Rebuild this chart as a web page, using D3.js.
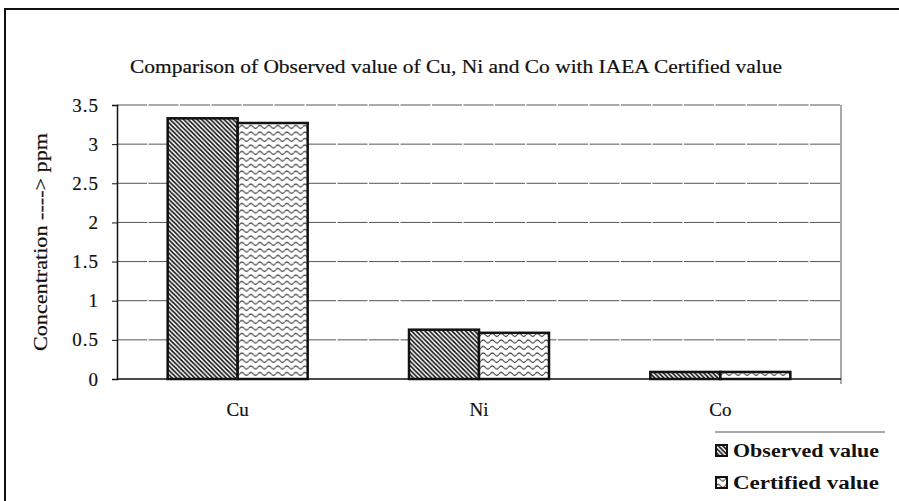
<!DOCTYPE html>
<html>
<head>
<meta charset="utf-8">
<script src="https://cdn.jsdelivr.net/npm/d3@7"></script>
<style>
  body { margin: 0; background: #fff; }
  svg text { font-family: "Liberation Serif", "Times New Roman", serif; fill: #111; }
</style>
</head>
<body>
<svg id="chart" width="899" height="501"></svg>
<script>
// values
const categories = ["Cu", "Ni", "Co"];
const observed = [3.33, 0.63, 0.09];
const certified = [3.27, 0.59, 0.09];
const seriesNames = ["Observed value", "Certified value"];
const yTickValues = [0, 0.5, 1, 1.5, 2, 2.5, 3, 3.5];

const svg = d3.select("#chart");
const plot = { left: 117, right: 841, top: 105, bottom: 379 };

// patterns: diagonal hatch for observed, wavy lines for certified
const defs = svg.append("defs");
const hatch = defs.append("pattern")
    .attr("id", "hatch")
    .attr("patternUnits", "userSpaceOnUse")
    .attr("width", 4.5).attr("height", 4.5);
hatch.append("rect").attr("width", 4.5).attr("height", 4.5).attr("fill", "#fff");
hatch.append("path")
    .attr("d", "M-1,-1 L5.5,5.5 M-1,3.5 L1,5.5 M3.5,-1 L5.5,1")
    .attr("stroke", "#111").attr("stroke-width", 1.6);

const wave = defs.append("pattern")
    .attr("id", "wave")
    .attr("patternUnits", "userSpaceOnUse")
    .attr("width", 9).attr("height", 6.5);
wave.append("rect").attr("width", 9).attr("height", 6.5).attr("fill", "#fff");
wave.append("path")
    .attr("d", "M0,3.5 Q2.25,0.5 4.5,3.5 T9,3.5")
    .attr("fill", "none").attr("stroke", "#222").attr("stroke-width", 1);

const fills = ["url(#hatch)", "url(#wave)"];

// scanned text looks a little heavy, thicken regular glyphs slightly
function heavy(sel) {
    sel.attr("stroke", "#111").attr("stroke-width", 0.2);
}

// outer frame (only top and left edges visible in the scan)
svg.append("path")
    .attr("d", "M5,501 L5,9 L899,9")
    .attr("fill", "none").attr("stroke", "#111").attr("stroke-width", 2);

// title
svg.append("text")
    .attr("x", 456).attr("y", 73)
    .attr("text-anchor", "middle")
    .attr("font-size", 19)
    .attr("textLength", 652)
    .attr("lengthAdjust", "spacingAndGlyphs")
    .text("Comparison of Observed value of Cu, Ni and Co with IAEA Certified value")
    .call(heavy);

// scales
const x = d3.scaleBand().domain(categories).range([plot.left, plot.right]);
const y = d3.scaleLinear().domain([0, 3.5]).range([plot.bottom, plot.top]);
const barW = 70;

// grid lines
svg.append("g")
    .selectAll("line")
    .data(yTickValues.filter(d => d > 0))
    .join("line")
    .attr("x1", plot.left).attr("x2", plot.right)
    .attr("y1", d => y(d)).attr("y2", d => y(d))
    .attr("stroke", "#555").attr("stroke-width", 1)
    .attr("stroke-dasharray", "30,1.5");

// right border of plot area
svg.append("line")
    .attr("x1", plot.right).attr("x2", plot.right)
    .attr("y1", plot.top).attr("y2", plot.bottom + 5)
    .attr("stroke", "#555").attr("stroke-width", 1);

// y axis
const yAxis = svg.append("g")
    .attr("transform", `translate(${plot.left},0)`)
    .call(d3.axisLeft(y).tickValues(yTickValues).tickSize(5).tickPadding(13)
        .tickFormat(d3.format("")));
yAxis.select(".domain").attr("stroke", "#111").attr("stroke-width", 1.5);
yAxis.selectAll(".tick line").attr("stroke", "#111");
yAxis.selectAll(".tick text")
    .attr("font-size", 19)
    .attr("letter-spacing", 1)
    .attr("fill", "#111")
    .call(heavy);

// x axis baseline
svg.append("line")
    .attr("x1", plot.left).attr("x2", plot.right)
    .attr("y1", plot.bottom).attr("y2", plot.bottom)
    .attr("stroke", "#111").attr("stroke-width", 1.5);

// category labels
svg.append("g")
    .selectAll("text")
    .data(categories)
    .join("text")
    .attr("x", d => x(d) + x.bandwidth() / 2)
    .attr("y", 416)
    .attr("text-anchor", "middle")
    .attr("font-size", 19)
    .text(d => d)
    .call(heavy);

// bars
const rows = categories.map((c, i) => ({ cat: c, vals: [observed[i], certified[i]] }));
const groups = svg.append("g")
    .selectAll("g")
    .data(rows)
    .join("g")
    .attr("transform", d => `translate(${x(d.cat) + x.bandwidth() / 2 - barW},0)`);

groups.selectAll("rect")
    .data(d => d.vals)
    .join("rect")
    .attr("x", (d, i) => i * barW)
    .attr("y", d => y(d))
    .attr("width", barW)
    .attr("height", d => y(0) - y(d))
    .attr("fill", (d, i) => fills[i])
    .attr("stroke", "#111")
    .attr("stroke-width", 2.5);

// y axis title
svg.append("text")
    .attr("transform", `translate(47,${(plot.top + plot.bottom) / 2}) rotate(-90)`)
    .attr("text-anchor", "middle")
    .attr("font-size", 19)
    .attr("textLength", 218)
    .attr("lengthAdjust", "spacingAndGlyphs")
    .text("Concentration ----> ppm")
    .call(heavy);

// legend
svg.append("line")
    .attr("x1", 715).attr("x2", 885).attr("y1", 432).attr("y2", 432)
    .attr("stroke", "#555").attr("stroke-width", 1);

const legend = svg.append("g")
    .selectAll("g")
    .data(seriesNames)
    .join("g")
    .attr("transform", (d, i) => `translate(716,${457 + i * 32})`);

legend.append("rect")
    .attr("x", 0).attr("y", -12)
    .attr("width", 11).attr("height", 11)
    .attr("fill", (d, i) => fills[i])
    .attr("stroke", "#111").attr("stroke-width", 2);

legend.append("text")
    .attr("x", 17).attr("y", 0)
    .attr("font-size", 18)
    .attr("font-weight", "bold")
    .attr("textLength", 146)
    .attr("lengthAdjust", "spacingAndGlyphs")
    .text(d => d);
</script>
</body>
</html>
